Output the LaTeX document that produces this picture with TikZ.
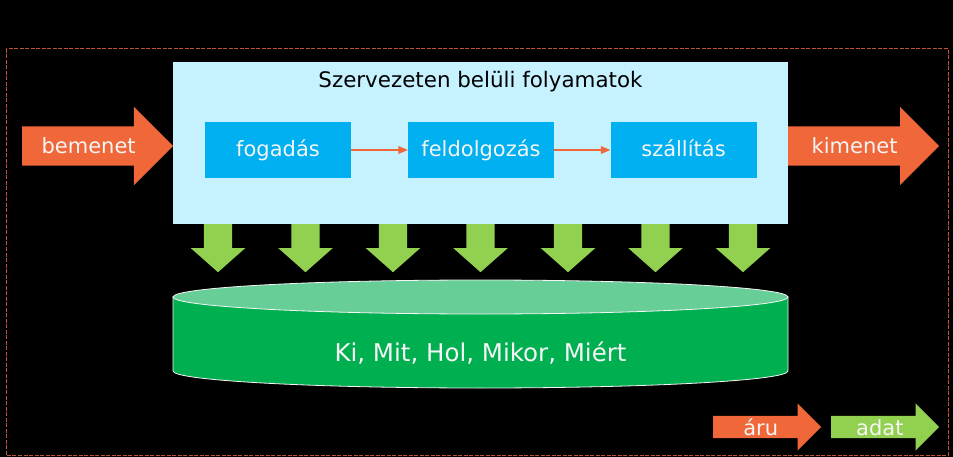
\documentclass[tikz,border=0pt]{standalone}
\usepackage{fontspec}
\setmainfont{DejaVu Sans}
\usetikzlibrary{arrows, shapes.arrows, calc}

\definecolor{goods}{RGB}{240,104,58}
\definecolor{datagreen}{RGB}{146,208,80}
\definecolor{procbg}{RGB}{198,242,255}
\definecolor{procblue}{RGB}{0,176,240}
\definecolor{cylbody}{RGB}{0,176,80}
\definecolor{cyltop}{RGB}{104,206,152}
\definecolor{offwhite}{RGB}{245,245,245}
\definecolor{frame}{RGB}{190,86,52}

\begin{document}
\begin{tikzpicture}[x=1pt, y=-1pt, every text node part/.style={align=center}]

\tikzstyle{stage}=[fill=procblue, text=offwhite, minimum width=146pt, minimum height=56pt, inner sep=0pt, text height=15pt, text depth=1pt, font=\fontsize{21}{25}\selectfont]
\tikzstyle{bigarr}=[single arrow, fill=goods, single arrow head extend=19.5pt, inner sep=19.5pt, minimum height=151pt, anchor=tail]
\tikzstyle{legarr}=[single arrow, single arrow head extend=12.5pt, inner sep=11pt, minimum height=108pt, anchor=tail]
\tikzstyle{downarr}=[single arrow, fill=datagreen, shape border rotate=270, single arrow head extend=13pt, single arrow tip angle=97, inner sep=14pt, minimum height=48pt, anchor=tail]
\tikzstyle{lbl}=[text=offwhite, font=\fontsize{21}{25}\selectfont, inner sep=0pt, anchor=base]
\tikzstyle{arr}=[draw=goods, line width=1.2pt, -triangle 45]

\fill [black] (0,0) rectangle (953,457);
\useasboundingbox (0,0) rectangle (953,457);
\draw [frame, line width=1pt, dash pattern=on 4pt off 1.5pt] (6,49) rectangle (948,455);

% folyamatok
\node (proc)  [fill=procbg, minimum width=615pt, minimum height=162pt, inner sep=0pt] at (480.5,143) {};
\node (title) [anchor=base, font=\fontsize{21.4}{25}\selectfont, inner sep=0pt] at (480.5,88) {Szervezeten belüli folyamatok};
\node (fogadas)     [stage] at (278,150)   {fogadás};
\node (feldolgozas) [stage] at (481,150)   {feldolgozás};
\node (szallitas)   [stage] at (683.5,150) {szállítás};
\path [arr] (fogadas)     -- (feldolgozas);
\path [arr] (feldolgozas) -- (szallitas);

% adatok
\foreach \i in {-3,...,3}
    \node (down\i) [downarr] at (480.5+87.5*\i, 224) {};

\path [fill=cylbody, draw=offwhite, line width=0.8pt]
    (173,297) -- (173,371)
    arc [start angle=180, end angle=0, x radius=307.5, y radius=17]
    -- (788,297) -- cycle;
\draw [fill=cyltop, draw=offwhite, line width=0.8pt] (480.5,297) ellipse [x radius=307.5, y radius=17];
\node (store) [lbl, font=\fontsize{24.5}{28}\selectfont] at (480.5,361) {Ki, Mit, Hol, Mikor, Miért};

% be- es kimenet
\node (bemenet) [bigarr] at (22,146)  {};
\node (kimenet) [bigarr] at (788,146) {};
\node (bemenet-t) [lbl] at ($(bemenet.tail)!0.44!(bemenet.tip) + (0,8)$) {bemenet};
\node (kimenet-t) [lbl] at ($(kimenet.tail)!0.44!(kimenet.tip) + (0,8)$) {kimenet};

% jelmagyarazat
\node (aru)  [legarr, fill=goods]     at (713,427) {};
\node (adat) [legarr, fill=datagreen] at (831,427) {};
\node (aru-t)  [lbl] at ($(aru.tail)!0.44!(aru.tip) + (0,8)$)   {áru};
\node (adat-t) [lbl] at ($(adat.tail)!0.45!(adat.tip) + (0,8)$) {adat};
\end{tikzpicture}
\end{document}
